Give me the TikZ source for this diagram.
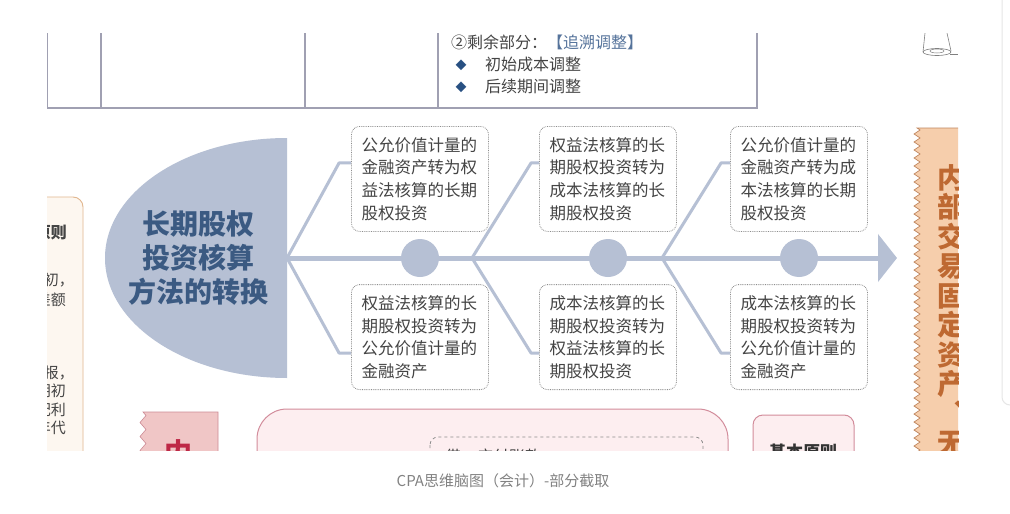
\documentclass[tikz,border=0pt]{standalone}
\usepackage{fontspec}
\setmainfont{Noto Sans CJK SC}
\usetikzlibrary{arrows.meta,positioning,decorations.pathmorphing}

\definecolor{slate}{RGB}{182,192,212}
\definecolor{titleblue}{RGB}{59,90,130}
\definecolor{boxline}{RGB}{140,140,140}
\definecolor{boxtext}{RGB}{68,68,68}
\definecolor{gridline}{RGB}{160,160,178}
\definecolor{bluetxt}{RGB}{85,115,155}
\definecolor{bullet}{RGB}{40,80,130}
\definecolor{creamfill}{RGB}{253,247,240}
\definecolor{creamline}{RGB}{225,182,142}
\definecolor{pinktag}{RGB}{240,198,198}
\definecolor{pinktagline}{RGB}{205,140,150}
\definecolor{crimson}{RGB}{190,40,70}
\definecolor{pinkfill}{RGB}{253,238,240}
\definecolor{pinkline}{RGB}{210,140,155}
\definecolor{peach}{RGB}{246,206,172}
\definecolor{peachline}{RGB}{192,135,95}
\definecolor{peachtext}{RGB}{190,105,50}
\definecolor{captiongray}{RGB}{130,130,130}
\definecolor{uiedge}{RGB}{230,230,230}

\begin{document}
\begin{tikzpicture}[x=1pt,y=-1pt,
  spine/.style={draw=slate,line width=5pt,-{Triangle[length=19pt,width=47pt]}},
  branch/.style={draw=slate,line width=3pt,line join=round},
  dot/.style={circle,fill=slate,minimum size=38pt,inner sep=0pt},
  box/.style={draw=boxline,densely dotted,line width=0.8pt,rounded corners=8pt,fill=white,
    text=boxtext,text width=117pt,inner xsep=10pt,minimum height=105pt,align=left,
    font=\fontsize{16.5}{22.7}\selectfont},
  grid/.style={draw=gridline,line width=1.1pt},
  celltext/.style={inner sep=0pt,anchor=west,text=boxtext,font=\fontsize{16}{19}\selectfont},
  sidetext/.style={inner sep=0pt,anchor=east,text=boxtext,font=\fontsize{15}{18}\selectfont}]
\path[use as bounding box] (0,0) rectangle (1010,514);
\fill[white] (0,0) rectangle (1010,514);

\begin{scope}
\clip (47,33) rectangle (958,450);
% top table
\draw[grid] (47,20) -- (47,108) -- (757,108) -- (757,20);
\draw[grid] (101,20) -- (101,108);
\draw[grid] (305,20) -- (305,108);
\draw[grid] (438,20) -- (438,108);
\node[celltext] (rest) at (451,42) {②剩余部分：\textcolor{bluetxt}{【追溯调整】}};
\node[inner sep=0pt,text=bullet,font=\fontsize{11}{11}\selectfont] (d1) at (461,65) {◆};
\node[celltext] (t1) at (485,64) {初始成本调整};
\node[inner sep=0pt,text=bullet,font=\fontsize{11}{11}\selectfont] (d2) at (461,87) {◆};
\node[celltext] (t2) at (485,86) {后续期间调整};
% lamp
\draw[gray,line width=0.6pt] (925,33) -- (923,52);
\draw[gray,line width=0.6pt] (947,33) -- (951,51);
\draw[gray,line width=0.6pt] (937,52) ellipse[x radius=14pt,y radius=3.5pt];
\draw[gray,line width=0.5pt] (937,51) ellipse[x radius=7pt,y radius=2pt];
\draw[gray,line width=0.5pt] (950,54) -- (958,54);

% left panel
\draw[fill=creamfill,draw=creamline,line width=0.9pt,rounded corners=10pt] (20,197) rectangle (83,480);
\node[sidetext,font=\bfseries\fontsize{16}{18}\selectfont] (rule) at (67,233) {原则};
\node[sidetext] (s1) at (74,280) {期初，};
\node[sidetext] (s2) at (66,300) {差额};
\node[sidetext] (s3) at (74,373) {列报，};
\node[sidetext] (s4) at (66,391) {期初};
\node[sidetext] (s5) at (66,410) {配利};
\node[sidetext] (s6) at (66,428) {年代};

% central head
\fill[slate] (287,378) arc[start angle=270,end angle=90,x radius=182pt,y radius=120pt] -- cycle;
\node[align=center,text=titleblue,font=\bfseries\fontsize{28}{34}\selectfont] (head) at (198,258)
  {长期股权\\投资核算\\方法的转换};
\coordinate (root) at (287,258);
\coordinate (f2) at (472,258);
\coordinate (f3) at (662,258);
\coordinate (tip) at (897,258);
\draw[spine] (root) -- (tip);

\node[dot] (c1) at (420,258) {};
\node[dot] (c2) at (608,258) {};
\node[dot] (c3) at (799,258) {};

\node[box,above=7pt of c1] (b1u) {公允价值计量的\\金融资产转为权\\益法核算的长期\\股权投资};
\node[box,below=7pt of c1] (b1l) {权益法核算的长\\期股权投资转为\\公允价值计量的\\金融资产};
\node[box,above=7pt of c2] (b2u) {权益法核算的长\\期股权投资转为\\成本法核算的长\\期股权投资};
\node[box,below=7pt of c2] (b2l) {成本法核算的长\\期股权投资转为\\权益法核算的长\\期股权投资};
\node[box,above=7pt of c3] (b3u) {公允价值计量的\\金融资产转为成\\本法核算的长期\\股权投资};
\node[box,below=7pt of c3] (b3l) {成本法核算的长\\期股权投资转为\\公允价值计量的\\金融资产};

\coordinate (p1u) at ([yshift=16pt]b1u.west);
\coordinate (p1l) at ([yshift=-16pt]b1l.west);
\coordinate (p2u) at ([yshift=16pt]b2u.west);
\coordinate (p2l) at ([yshift=-16pt]b2l.west);
\coordinate (p3u) at ([yshift=16pt]b3u.west);
\coordinate (p3l) at ([yshift=-16pt]b3l.west);
\draw[branch] (root) -- ([xshift=-12pt]p1u) -- (p1u);
\draw[branch] (root) -- ([xshift=-12pt]p1l) -- (p1l);
\draw[branch] (f2) -- ([xshift=-8pt]p2u) -- (p2u);
\draw[branch] (f2) -- ([xshift=-8pt]p2l) -- (p2l);
\draw[branch] (f3) -- ([xshift=-9pt]p3u) -- (p3u);
\draw[branch] (f3) -- ([xshift=-9pt]p3l) -- (p3l);

% bottom row
\path[fill=pinktag,draw=pinktagline,line width=0.6pt] (218,412) -- (143,412)
  decorate[decoration={zigzag,segment length=14pt,amplitude=3pt}]{-- (143,480)} -- (218,480) -- cycle;
\node[text=crimson,font=\bfseries\fontsize{28}{28}\selectfont] (inner) at (178,453) {内};
\draw[fill=pinkfill,draw=pinkline,line width=1pt,rounded corners=30pt] (257,409) rectangle (728,520);
\draw[draw=boxline,dashed,line width=0.8pt,rounded corners=8pt] (430,437) rectangle (703,500);
\node[celltext] (entry) at (445,456) {借：应付账款};
\draw[fill=pinkfill,draw=pinkline,line width=1pt,rounded corners=10pt] (753,415) rectangle (854,500);
\node[text=black!80,font=\bfseries\fontsize{17}{17}\selectfont] (basic) at (803,452) {基本原则};

% right tag
\path[fill=peach,draw=peachline,line width=0.7pt] (975,128) -- (917,128)
  decorate[decoration={zigzag,segment length=8pt,amplitude=3pt}]{-- (917,470)} -- (975,470) -- cycle;
\node[anchor=north,inner sep=0pt,text width=28pt,align=center,text=peachtext,
  font=\bfseries\fontsize{28}{29.5}\selectfont] (vert) at (951,164)
  {内\\部\\交\\易\\固\\定\\资\\产\\︑\\无};
\end{scope}

% page chrome
\draw[uiedge,line width=1pt,rounded corners=8pt] (1002,-5) -- (1002,405) -- (1015,405);
\node[text=captiongray,font=\fontsize{15}{15}\selectfont] (caption) at (503,481) {CPA思维脑图（会计）-部分截取};
\end{tikzpicture}
\end{document}
